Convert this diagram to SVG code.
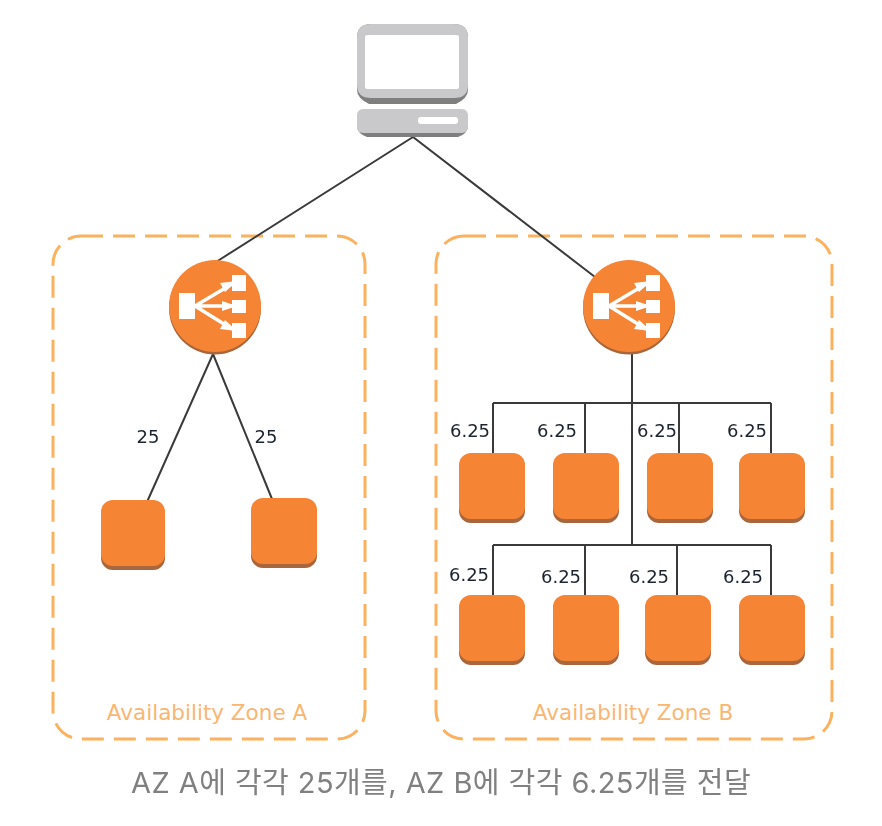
<svg xmlns="http://www.w3.org/2000/svg" width="882" height="826" viewBox="0 0 882 826">
<defs>
<style>
.zone{fill:none;stroke:#fbb25e;stroke-width:3;stroke-dasharray:22 10}
.zl{font:21.5px "DejaVu Sans",sans-serif;fill:#f9b673;text-anchor:middle}
.num{font:18px "DejaVu Sans",sans-serif;fill:#1c2430;text-anchor:middle}
.c{fill:none;stroke:#3a3a3a;stroke-width:2}
.o{fill:#f58536}.s{fill:#a9653a}.w{fill:#fff}.wl{stroke:#fff;stroke-width:3.5;fill:none}
</style>
<filter id="soft" x="-5%" y="-5%" width="110%" height="110%"><feGaussianBlur stdDeviation="0.6"/></filter>
<g id="inst"><rect y="8" width="66" height="62" rx="12" class="s"/><rect width="66" height="66" rx="12" class="o"/></g>
<g id="elb">
<circle cy="2.5" r="46" class="s"/><circle r="46" class="o"/>
<rect x="-36" y="-13" width="16" height="26" class="w"/>
<rect x="17" y="-31" width="14" height="16" class="w"/><rect x="17" y="-6" width="14" height="13" class="w"/><rect x="17" y="17" width="14" height="15" class="w"/>
<path d="M-20 0L17-22M-20 0H17M-20 0L17 23" class="wl"/>
<path d="M22-25L5-23L10-14ZM22 0L7-5V5ZM22 25L10 14L5 23Z" class="w"/>
</g>
</defs>
<rect width="882" height="826" fill="#fff"/>
<g id="zone-a"><rect class="zone" x="53" y="236" width="312" height="503" rx="28"/><text class="zl" x="207" y="720">Availability Zone A</text></g>
<g id="zone-b"><rect class="zone" x="436" y="236" width="396" height="503" rx="28"/><text class="zl" x="633" y="720">Availability Zone B</text></g>
<g id="connectors">
<path class="c" d="M413 137L216 262M413 137L595 277M213 354L147 502M213 354L272 499M632 354V546M493 403H771M493 403V454M585 403V454M679 403V454M771 403V454M493 545H771M493 545V596M585 545V596M677 545V596M771 545V596"/>
</g>
<g id="client" filter="url(#soft)">
<path d="M357 90V38Q357 24 371 24H454Q468 24 468 38V90Q468 98 456 104H369Q357 98 357 90Z" fill="#7f7f7f"/>
<path d="M357 85V38Q357 24 371 24H454Q468 24 468 38V85Q468 98 454 98H371Q357 98 357 85Z" fill="#c9c9cb"/>
<rect x="365" y="35" width="94" height="54" rx="2" fill="#fff"/>
<path d="M357 120V127Q358 134 367 137H458Q467 134 468 127V120Z" fill="#7f7f7f"/>
<rect x="357" y="109" width="111" height="24" rx="6" fill="#c9c9cb"/>
<rect x="418" y="117" width="40" height="7" rx="3" fill="#fff"/>
</g>
<g filter="url(#soft)">
<use id="elb-a" href="#elb" x="215" y="306"/>
<use id="elb-b" href="#elb" x="629" y="306"/>
<use id="inst-a1" href="#inst" transform="translate(101 500) scale(.97 1)"/>
<use id="inst-a2" href="#inst" x="251" y="498"/>
<use id="inst-b1" href="#inst" x="459" y="453"/>
<use id="inst-b2" href="#inst" x="553" y="453"/>
<use id="inst-b3" href="#inst" x="647" y="453"/>
<use id="inst-b4" href="#inst" x="739" y="453"/>
<use id="inst-b5" href="#inst" x="459" y="595"/>
<use id="inst-b6" href="#inst" x="553" y="595"/>
<use id="inst-b7" href="#inst" x="645" y="595"/>
<use id="inst-b8" href="#inst" x="739" y="595"/>
</g>
<g id="labels">
<text class="num" x="148" y="443">25</text><text class="num" x="266" y="443">25</text>
<text class="num" x="470" y="437">6.25</text><text class="num" x="557" y="437">6.25</text><text class="num" x="657" y="437">6.25</text><text class="num" x="747" y="437">6.25</text>
<text class="num" x="469" y="581">6.25</text><text class="num" x="561" y="583">6.25</text><text class="num" x="649" y="583">6.25</text><text class="num" x="743" y="583">6.25</text>
</g>
<text id="caption" x="441" y="793" font-family="Inter,'Noto Sans CJK KR',sans-serif" font-size="29" letter-spacing="0.45" fill="#808080" text-anchor="middle">AZ A에 각각 25개를, AZ B에 각각 6.25개를 전달</text>
</svg>
